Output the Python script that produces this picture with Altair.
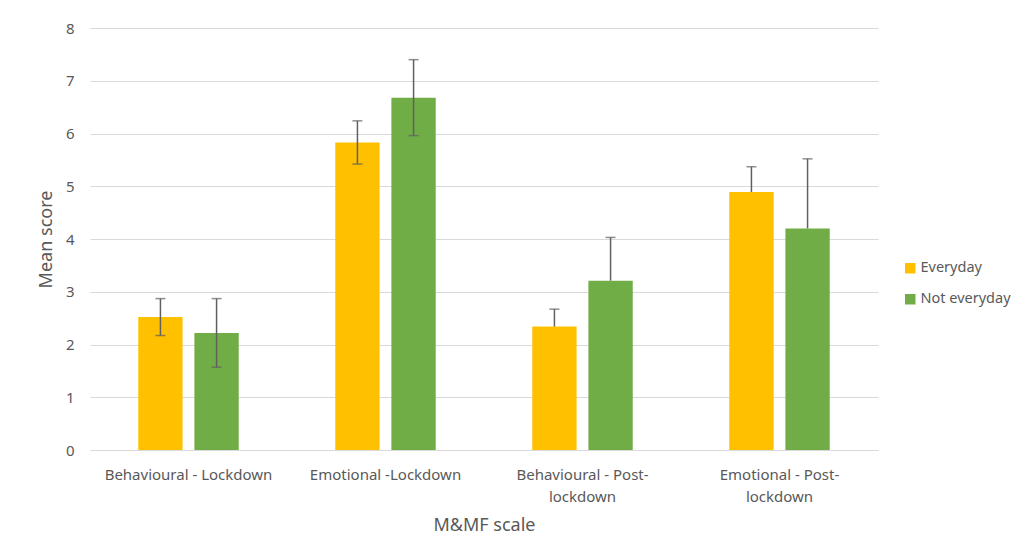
import altair as alt
import pandas as pd

categories = ["Behavioural - Lockdown", "Emotional -Lockdown",
              "Behavioural - Post-|lockdown", "Emotional - Post-|lockdown"]
groups = ["Everyday", "Not everyday"]
everyday = [2.52, 5.83, 2.34, 4.89]
everyday_err_plus = [0.35, 0.41, 0.33, 0.48]
everyday_err_minus = [0.35, 0.41, 0.0, 0.0]
not_everyday = [2.22, 6.68, 3.21, 4.20]
not_everyday_err_plus = [0.65, 0.72, 0.82, 1.32]
not_everyday_err_minus = [0.65, 0.72, 0.0, 0.0]
colors = ["#FFC000", "#70AD47"]

rows = []
for i, c in enumerate(categories):
    for g, vals, ep, em in [(groups[0], everyday, everyday_err_plus, everyday_err_minus),
                            (groups[1], not_everyday, not_everyday_err_plus, not_everyday_err_minus)]:
        rows.append({"cat": c, "group": g, "mean": vals[i],
                     "lo": vals[i] - em[i], "hi": vals[i] + ep[i], "has_lo": em[i] > 0})
df = pd.DataFrame(rows)

FONT = "Noto Sans"
TXT = "#595959"

x_enc = alt.X("cat:N", sort=categories,
              scale=alt.Scale(paddingInner=0.49, paddingOuter=0.245),
              axis=alt.Axis(title="M&MF scale", labelAngle=0, labelExpr="split(datum.label, '|')",
                            labelFontSize=15, labelColor=TXT, labelFont=FONT, labelPadding=17,
                            labelLineHeight=22,
                            ticks=False, domainColor="#d9d9d9", titleFontSize=18, titleFont=FONT,
                            titleColor=TXT, titleFontWeight="normal", titlePadding=12))
xo = alt.XOffset("group:N", sort=groups, scale=alt.Scale(paddingInner=0.21, paddingOuter=0))

bars = alt.Chart(df).mark_bar().encode(
    x=x_enc,
    xOffset=xo,
    y=alt.Y("mean:Q", scale=alt.Scale(domain=[0, 8]),
            axis=alt.Axis(title="Mean score", values=[0, 1, 2, 3, 4, 5, 6, 7, 8],
                          grid=True, gridColor="#d9d9d9", gridWidth=1, domain=False, ticks=False,
                          labelFontSize=15, labelColor=TXT, labelFont=FONT, labelPadding=16,
                          titleFontSize=18, titleFont=FONT, titleColor=TXT,
                          titleFontWeight="normal", titlePadding=10)),
    color=alt.Color("group:N", sort=groups, scale=alt.Scale(domain=groups, range=colors),
                    legend=alt.Legend(title=None, orient="none", legendX=813, legendY=233,
                                      symbolType="square", symbolSize=110, symbolStrokeWidth=0,
                                      labelFontSize=14.5, labelFont=FONT, labelColor=TXT,
                                      rowPadding=16, labelOffset=3)),
)

rules = alt.Chart(df).mark_rule(color="#606060", strokeWidth=1.5).encode(
    x=alt.X("cat:N", sort=categories), xOffset=xo,
    y="lo:Q", y2="hi:Q")
cap_lo = alt.Chart(df).transform_filter("datum.has_lo").mark_tick(
    color="#606060", size=10, thickness=1.5).encode(
    x=alt.X("cat:N", sort=categories), xOffset=xo, y="lo:Q")
cap_hi = alt.Chart(df).mark_tick(color="#606060", size=10, thickness=1.5).encode(
    x=alt.X("cat:N", sort=categories), xOffset=xo, y="hi:Q")

chart = alt.layer(bars, rules, cap_lo, cap_hi).properties(
    width=788, height=422,
    autosize=alt.AutoSizeParams(type="none"),
    padding={"left": 82, "top": 20, "right": 148, "bottom": 90},
).configure(background="white").configure_view(stroke=None)

chart.save("out.html", embed_options={"renderer": "svg", "actions": False})
